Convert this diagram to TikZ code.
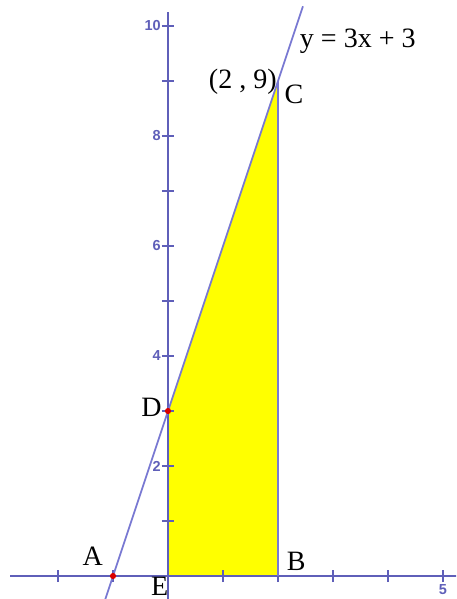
\documentclass[tikz,border=0pt]{standalone}
\usepackage{fontspec}
\setmainfont{Liberation Serif}
\setsansfont{Liberation Sans}
\usetikzlibrary{calc,positioning}

\definecolor{axisblue}{RGB}{95,95,185}
\definecolor{lineblue}{RGB}{120,120,210}
\definecolor{areayellow}{RGB}{255,255,0}

\begin{document}
\begin{tikzpicture}[
    axis/.style={axisblue, line width=0.9pt},
    tick/.style={axisblue, line width=0.8pt},
    ticklabel/.style={text=axisblue, font=\sffamily\bfseries\fontsize{7.5}{8}\selectfont, inner sep=1pt},
    graph/.style={lineblue, line width=0.9pt},
    label/.style={font=\fontsize{14.5}{16}\selectfont, inner sep=0pt},
    dot/.style={circle, fill=red!85!black, inner sep=0pt, minimum size=3.2pt}
]
\useasboundingbox (-3.055,-0.418) rectangle (5.236,10.473);
\clip (-3.055,-0.418) rectangle (5.236,10.473);

% points
\coordinate (A) at (-1,0);
\coordinate (B) at (2,0);
\coordinate (C) at (2,9);
\coordinate (D) at (0,3);
\coordinate (E) at (0,0);

% shaded region
\fill[areayellow] (E) -- (B) -- (C) -- (D) -- cycle;

% axes
\coordinate (xmin) at (-2.87,0);
\coordinate (xmax) at (5.3,0);
\coordinate (ymin) at (0,-0.5);
\coordinate (ymax) at (0,10.25);
\draw[axis] (xmin) -- (xmax);
\draw[axis] (ymin) -- (ymax);
\foreach \x in {-2,...,5}
    \draw[tick] (\x,-0.11) -- (\x,0.11);
\foreach \y in {1,...,10}
    \draw[tick] (-0.11,\y) -- (0.11,\y);
\foreach \y in {2,4,...,10}
    \node[ticklabel, left=0.04cm of {(-0.05,\y)}] (ylab\y) {\y};
\node[ticklabel, below=0.12cm of {(5,0)}] (xlab5) {5};

% vertical side and graph
\draw[graph] (B) -- (C);
\draw[graph] ($(A)!-0.2!(C)$) -- ($(A)!1.151!(C)$);

\node[dot] (Adot) at (A) {};
\node[dot] (Ddot) at (D) {};

% labels
\node[label] (Alab) at (-1.37,0.36) {A};
\node[label] (Blab) at (2.33,0.26) {B};
\node[label] (Clab) at (2.29,8.76) {C};
\node[label] (Dlab) at (-0.3,3.06) {D};
\node[label] (Elab) at (-0.15,-0.19) {E};
\node[label] (Ccoord) at (1.36,8.99) {(2 , 9)};
\node[label] (eqn) at (3.45,9.72) {y = 3x + 3};

\end{tikzpicture}
\end{document}
